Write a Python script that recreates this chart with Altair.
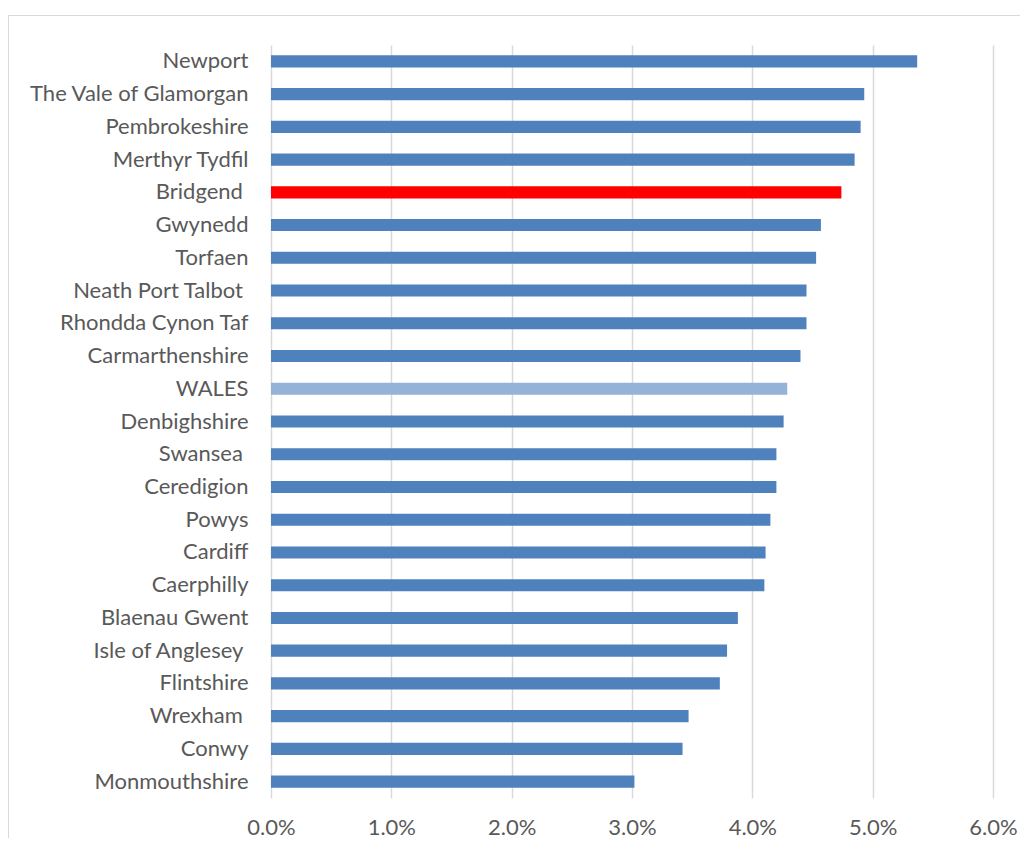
import altair as alt
import pandas as pd

SP = "\u00a0\u200d"  # trailing space kept visible after label trimming
areas = ["Newport", "The Vale of Glamorgan", "Pembrokeshire", "Merthyr Tydfil",
         "Bridgend" + SP, "Gwynedd", "Torfaen", "Neath Port Talbot" + SP,
         "Rhondda Cynon Taf", "Carmarthenshire", "WALES", "Denbighshire",
         "Swansea" + SP, "Ceredigion", "Powys", "Cardiff", "Caerphilly",
         "Blaenau Gwent", "Isle of Anglesey" + SP, "Flintshire", "Wrexham" + SP,
         "Conwy", "Monmouthshire"]
rates_pct = [5.37, 4.93, 4.90, 4.85, 4.74, 4.57, 4.53, 4.45, 4.45, 4.40, 4.29,
             4.26, 4.20, 4.20, 4.15, 4.11, 4.10, 3.88, 3.79, 3.73, 3.47, 3.42, 3.02]
groups = ["area"] * len(areas)
groups[areas.index("Bridgend" + SP)] = "highlight"
groups[areas.index("WALES")] = "total"
tick_values = [0.0, 0.01, 0.02, 0.03, 0.04, 0.05, 0.06]

df = pd.DataFrame({"area": areas, "rate": [r / 100 for r in rates_pct], "group": groups})

FONT = "Lato"
TXT = "#595959"
GRID = "#d9d9d9"

bars = alt.Chart(df).mark_bar().encode(
    y=alt.Y("area:N", sort=areas,
            scale=alt.Scale(paddingInner=0.63, paddingOuter=0.315),
            axis=alt.Axis(title=None, domain=False, ticks=False, grid=False,
                          labelFont=FONT, labelFontSize=22, labelColor=TXT,
                          labelPadding=23, labelLimit=0)),
    x=alt.X("rate:Q", scale=alt.Scale(domain=[0, 0.06], nice=False),
            axis=alt.Axis(title=None, values=tick_values, format=".1%",
                          domain=False, ticks=False, tickSize=0, grid=True,
                          gridColor=GRID, gridWidth=1.5, labelFlush=False,
                          labelFont=FONT, labelFontSize=22, labelColor=TXT,
                          labelPadding=19)),
    color=alt.Color("group:N", legend=None,
                    scale=alt.Scale(domain=["area", "highlight", "total"],
                                    range=["#4f81bd", "#ff0000", "#95b3d7"])),
)

dummy = pd.DataFrame({"k": [0]})
frame_left = alt.Chart(dummy).mark_rule(color=GRID, strokeWidth=1).encode(
    x=alt.value(-262.5), y=alt.value(-29.5), y2=alt.value(820))
frame_top = alt.Chart(dummy).mark_rule(color=GRID, strokeWidth=1).encode(
    y=alt.value(-29.5), x=alt.value(-263), x2=alt.value(760))

chart = alt.layer(frame_left, frame_top, bars).properties(
    width=722, height=753,
    autosize=alt.AutoSizeParams(type="none"),
    padding={"left": 263, "top": 37, "right": 27, "bottom": 40},
).configure_view(stroke=None)

chart.save("out.html", embed_options={"renderer": "svg", "actions": False})
